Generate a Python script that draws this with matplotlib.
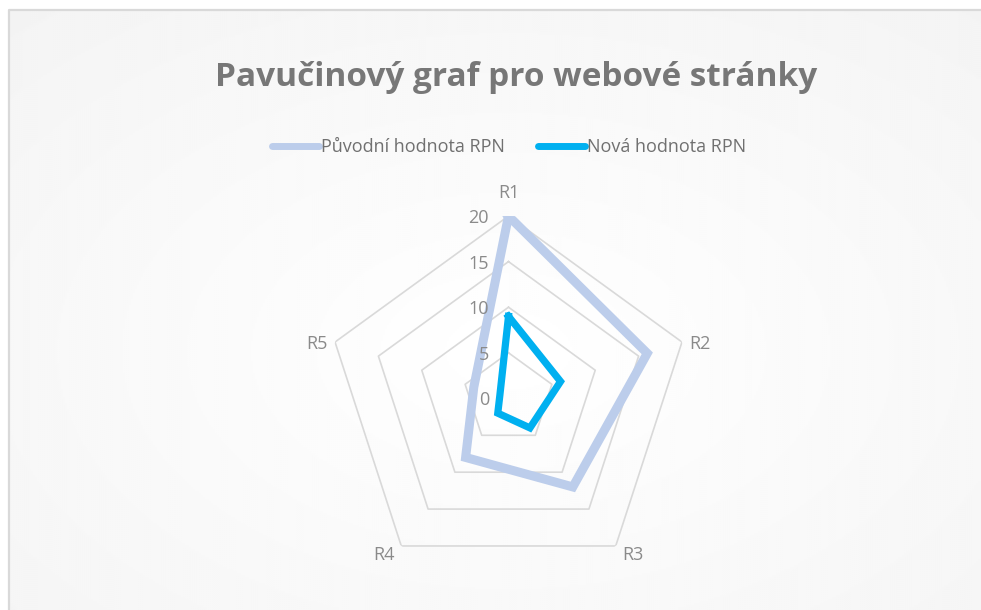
import matplotlib
matplotlib.use("Agg")
import matplotlib.pyplot as plt
import matplotlib.transforms as mtransforms
from matplotlib.lines import Line2D
import numpy as np

# Data
categories = ["R1", "R2", "R3", "R4", "R5"]
puvodni = [20, 16, 12, 8, 4]
nova = [9, 6, 4, 2, 1]
ring_values = [5, 10, 15, 20]
tick_labels = ["0", "5", "10", "15", "20"]

title = "Pavučinový graf pro webové stránky"
series_names = ["Původní hodnota RPN", "Nová hodnota RPN"]
colors = ["#bccdeb", "#00b0f0"]

grid_col = "#d9d9d9"
text_col = "#8a8a8a"

fig = plt.figure(figsize=(9.81, 6.10), dpi=100)
fig.patch.set_facecolor("white")

# background panel with soft radial gradient
bg = fig.add_axes([8 / 981, 0, 1 - 8 / 981, 600 / 610])
bg.set_axis_off()
yy, xx = np.mgrid[0:300, 0:487]
d = np.hypot((xx - 250) / 487, (yy - 170) / 300)
bg.imshow(1 - 0.045 * d / d.max(), cmap="gray", vmin=0, vmax=1,
          aspect="auto", extent=[0, 1, 0, 1], interpolation="bilinear")
bg.set_xlim(0, 1)
bg.set_ylim(0, 1)
# frame only on left and top
fig.add_artist(Line2D([8.5 / 981, 8.5 / 981, 1], [0, 600 / 610, 600 / 610],
                      transform=fig.transFigure, color=grid_col, lw=1.6))

# radar axes
cx, cy, R = 508.5, 398.4, 182.4
ax = fig.add_axes([(cx - R) / 981, (610 - cy - R) / 610, 2 * R / 981, 2 * R / 610],
                  projection="polar")
ax.set_facecolor("none")
ax.set_theta_offset(np.pi / 2)
ax.set_theta_direction(-1)
ax.set_ylim(0, 20)
ax.grid(False)
ax.spines["polar"].set_visible(False)
ax.set_yticks([])
ax.set_xticks([])

n = len(categories)
angles = np.linspace(0, 2 * np.pi, n, endpoint=False)
closed = np.concatenate([angles, angles[:1]])

for r in ring_values:
    ax.plot(closed, [r] * (n + 1), color=grid_col, lw=1.2, zorder=1)

ax.plot(closed, puvodni + puvodni[:1], color=colors[0], lw=6.5,
        solid_joinstyle="miter", zorder=3)
ax.plot(closed, nova + nova[:1], color=colors[1], lw=5.2,
        solid_joinstyle="miter", zorder=4)

# category labels outside the outer ring
for a, lab in zip(angles, categories):
    s, c = np.sin(a), np.cos(a)
    if abs(s) < 0.1:
        ha, dx = "center", 0
    elif s > 0:
        ha, dx = "left", 7
    else:
        ha, dx = "right", -7
    if c > 0.5:
        va, dy = "bottom", 14
    elif c > -0.1:
        va, dy = "center_baseline", 0
    else:
        va, dy = "top", 0
    tr = mtransforms.offset_copy(ax.transData, fig=fig, x=dx / 1.389, y=dy / 1.389,
                                 units="points")
    ax.text(a, 20, lab, transform=tr, ha=ha, va=va, fontsize=13,
            color=text_col, family="Open Sans")

# value labels along R1 axis
offs = mtransforms.offset_copy(ax.transData, fig=fig, x=-14, y=0, units="points")
for v, lab in zip([0] + ring_values, tick_labels):
    ax.text(0, v, lab, transform=offs, ha="right", va="center_baseline",
            fontsize=13, color=text_col, family="Open Sans")

fig.text(516 / 981, 1 - 77 / 610, title, ha="center", va="center",
         fontsize=24, fontweight="bold", color="#777777", family="Open Sans")

handles = [Line2D([], [], color=c, lw=5, solid_capstyle="round") for c in colors]
fig.legend(handles, series_names, loc="center", bbox_to_anchor=(509 / 981, 1 - 147 / 610),
           ncol=2, frameon=False, handlelength=2.6, handletextpad=0.15,
           columnspacing=1.8, prop={"family": "Open Sans", "size": 13},
           labelcolor="#707070")

fig.savefig("out.png", dpi=100)
